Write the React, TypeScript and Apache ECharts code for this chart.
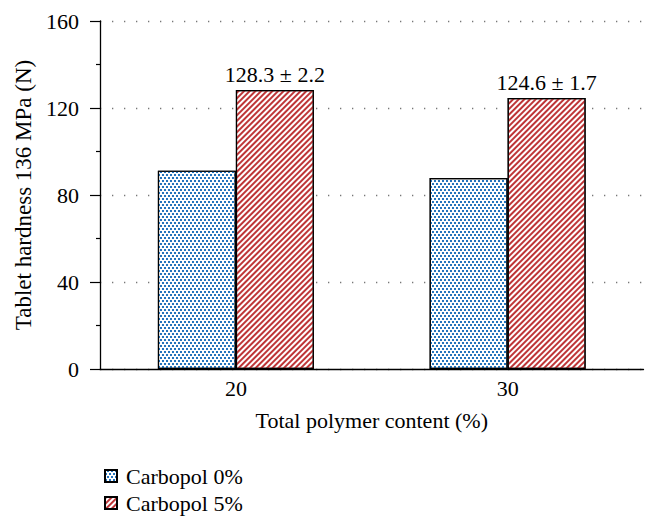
import React, { useEffect, useRef } from "react";
import * as echarts from "echarts";

const categories = ["20", "30"];
const carbopol0 = [91.2, 87.8];
const carbopol5 = [128.3, 124.6];
const errorLabels = ["128.3 ± 2.2", "124.6 ± 1.7"];
const seriesNames = ["Carbopol 0%", "Carbopol 5%"];
const yTicks = { min: 0, max: 160, interval: 40 };

const FONT = "'Liberation Serif', 'DejaVu Serif', serif";

export default function App() {
  const ref = useRef<HTMLDivElement>(null);
  useEffect(() => {
    if (!ref.current) return;
    const chart = echarts.init(ref.current, null, { renderer: "svg" });
    const blueDecal = {
      symbol: "rect",
      symbolSize: 1,
      dashArrayX: [
        [2, 2],
        [0, 2, 2, 0],
      ],
      dashArrayY: [2, 1],
      color: "#2474bd",
    };
    const redDecal = {
      symbol: "rect",
      symbolSize: 1,
      dashArrayX: [1, 0],
      dashArrayY: [2, 2],
      rotation: -Math.PI / 4,
      color: "#be3537",
    };
    chart.setOption({
      animation: false,
      textStyle: { fontFamily: FONT, color: "#000" },
      grid: { left: 100, right: 13.5, top: 21, bottom: 159 },
      legend: {
        orient: "vertical",
        left: 99,
        top: 460,
        itemWidth: 12,
        itemHeight: 12,
        itemGap: 5,
        icon: "rect",
        textStyle: { fontFamily: FONT, fontSize: 22, color: "#000", padding: [0, 0, 0, 4] },
        data: seriesNames,
      },
      xAxis: {
        type: "category",
        data: categories,
        name: "Total polymer content (%)",
        nameLocation: "middle",
        nameGap: 40,
        nameTextStyle: { fontFamily: FONT, fontSize: 22, color: "#000" },
        axisLine: { lineStyle: { color: "#000", width: 1.3 } },
        axisTick: { show: false },
        axisLabel: { fontFamily: FONT, fontSize: 22, color: "#000", margin: 8 },
        splitLine: { show: false },
      },
      yAxis: {
        type: "value",
        min: yTicks.min,
        max: yTicks.max,
        interval: yTicks.interval,
        name: "Tablet hardness 136 MPa (N)",
        nameLocation: "middle",
        nameGap: 63,
        nameTextStyle: { fontFamily: FONT, fontSize: 23, color: "#000" },
        axisLine: { show: true, lineStyle: { color: "#000", width: 1.3 } },
        axisTick: { show: true, inside: false, length: 10, lineStyle: { color: "#000", width: 1.2 } },
        minorTick: { show: true, splitNumber: 2, length: 4, lineStyle: { color: "#000", width: 1.2 } },
        axisLabel: { fontFamily: FONT, fontSize: 22, color: "#000", margin: 21 },
        splitLine: {
          show: true,
          lineStyle: { color: "#777", width: 1.3, type: [1.3, 10.7] },
        },
      },
      series: [
        {
          name: seriesNames[0],
          type: "bar",
          data: carbopol0,
          barWidth: 78,
          barGap: "0%",
          itemStyle: { color: "#ffffff", borderColor: "#000", borderWidth: 1.2, decal: blueDecal },
        },
        {
          name: seriesNames[1],
          type: "bar",
          data: carbopol5,
          barWidth: 78,
          barGap: "0%",
          itemStyle: { color: "#ffffff", borderColor: "#000", borderWidth: 1.2, decal: redDecal },
          label: {
            show: true,
            position: "top",
            distance: 4,
            fontFamily: FONT,
            fontSize: 22,
            color: "#000",
            formatter: (p: any) => errorLabels[p.dataIndex],
          },
        },
      ],
    });
    return () => chart.dispose();
  }, []);
  return (
    <div
      ref={ref}
      style={{ position: "fixed", left: 0, top: 0, width: 657, height: 528, background: "#fff" }}
    />
  );
}
